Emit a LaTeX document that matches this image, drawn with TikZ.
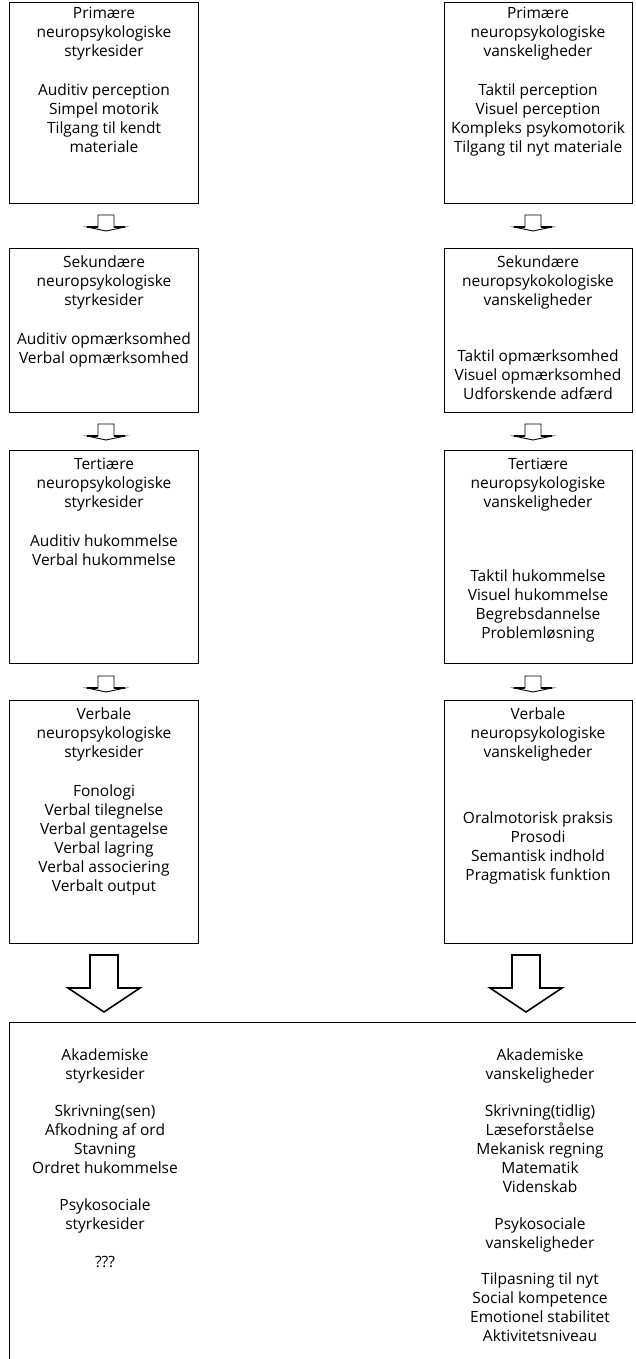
\documentclass[tikz,border=0pt]{standalone}
\usepackage{fontspec}
\setmainfont{Open Sans}
\begin{document}
\begin{tikzpicture}[x=1pt,y=-1pt,
  box/.style={draw,line width=0.9pt,anchor=north west,inner sep=0pt},
  txt/.style={align=center,font=\fontsize{15.5}{19}\selectfont,anchor=north,inner sep=0pt},
  smallarrow/.pic={\draw[line width=0.9pt,line join=miter] (-8,12) -- (-8,0) -- (8,0) -- (8,12) -- (19,12) -- (0,16) -- (-19,12) -- cycle;
                   \draw[line width=1.6pt] (-19,12) -- (-8,12) (8,12) -- (19,12);},
  bigarrow/.pic={\draw[line width=1.6pt,line join=miter] (-14,33) -- (-14,0) -- (14,0) -- (14,33) -- (36,33) -- (0,57) -- (-36,33) -- cycle;}
  ]
\useasboundingbox (0,0) rectangle (635,1359);
% boxes
\node[box,minimum width=189,minimum height=201] (L1) at (9,2) {};
\node[box,minimum width=188,minimum height=201] (R1) at (444,2) {};
\node[box,minimum width=189,minimum height=164] (L2) at (9,248) {};
\node[box,minimum width=188,minimum height=164] (R2) at (444,248) {};
\node[box,minimum width=189,minimum height=213] (L3) at (9,450) {};
\node[box,minimum width=188,minimum height=213] (R3) at (444,450) {};
\node[box,minimum width=189,minimum height=243] (L4) at (9,700) {};
\node[box,minimum width=188,minimum height=243] (R4) at (444,700) {};
\node[box,minimum width=640,minimum height=400] (B) at (9,1022) {};
% arrows
\pic at (106,215) {smallarrow};
\pic at (533,215) {smallarrow};
\pic at (106,424) {smallarrow};
\pic at (533,424) {smallarrow};
\pic at (106,676) {smallarrow};
\pic at (533,676) {smallarrow};
\pic at (104,955) {bigarrow};
\pic at (526,955) {bigarrow};
% texts row 1
\node[txt] (l1a) at (104,7) {Primære\\neuropsykologiske\\styrkesider};
\node[txt] (l1b) at (104,84) {Auditiv perception\\Simpel motorik\\Tilgang til kendt\\materiale};
\node[txt] (r1a) at (538,7) {Primære\\neuropsykologiske\\vanskeligheder};
\node[txt] (r1b) at (538,84) {Taktil perception\\Visuel perception\\Kompleks psykomotorik\\Tilgang til nyt materiale};
% row 2
\node[txt] (l2a) at (104,256) {Sekundære\\neuropsykologiske\\styrkesider};
\node[txt] (l2b) at (104,333) {Auditiv opmærksomhed\\Verbal opmærksomhed};
\node[txt] (r2a) at (538,256) {Sekundære\\neuropsykokologiske\\vanskeligheder};
\node[txt] (r2b) at (538,350) {Taktil opmærksomhed\\Visuel opmærksomhed\\Udforskende adfærd};
% row 3
\node[txt] (l3a) at (104,458) {Tertiære\\neuropsykologiske\\styrkesider};
\node[txt] (l3b) at (104,535) {Auditiv hukommelse\\Verbal hukommelse};
\node[txt] (r3a) at (538,458) {Tertiære\\neuropsykologiske\\vanskeligheder};
\node[txt] (r3b) at (538,570) {Taktil hukommelse\\Visuel hukommelse\\Begrebsdannelse\\Problemløsning};
% row 4
\node[txt] (l4a) at (104,708) {Verbale\\neuropsykologiske\\styrkesider};
\node[txt] (l4b) at (104,785) {Fonologi\\Verbal tilegnelse\\Verbal gentagelse\\Verbal lagring\\Verbal associering\\Verbalt output};
\node[txt] (r4a) at (538,708) {Verbale\\neuropsykologiske\\vanskeligheder};
\node[txt] (r4b) at (538,812) {Oralmotorisk praksis\\Prosodi\\Semantisk indhold\\Pragmatisk funktion};
% bottom
\node[txt] (l5a) at (105,1049) {Akademiske\\styrkesider};
\node[txt] (l5b) at (105,1105) {Skrivning(sen)\\Afkodning af ord\\Stavning\\Ordret hukommelse};
\node[txt] (l5c) at (105,1199) {Psykosociale\\styrkesider};
\node[txt] (l5d) at (105,1256) {???};
\node[txt] (r5a) at (540,1049) {Akademiske\\vanskeligheder};
\node[txt] (r5b) at (540,1105) {Skrivning(tidlig)\\Læseforståelse\\Mekanisk regning\\Matematik\\Videnskab};
\node[txt] (r5c) at (540,1218) {Psykosociale\\vanskeligheder};
\node[txt] (r5d) at (540,1273) {Tilpasning til nyt\\Social kompetence\\Emotionel stabilitet\\Aktivitetsniveau};
\end{tikzpicture}
\end{document}
